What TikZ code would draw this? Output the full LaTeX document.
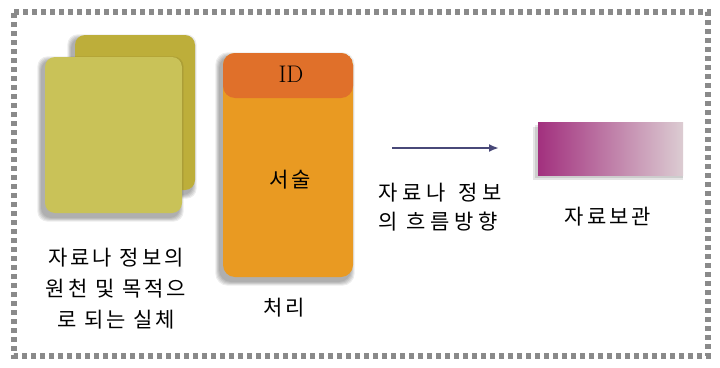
\documentclass[tikz,border=0pt]{standalone}
\usepackage{fontspec}
\usetikzlibrary{arrows.meta}
\newfontfamily\kr[LetterSpace=14]{Noto Sans CJK KR}
\newfontfamily\krw[LetterSpace=22]{Noto Sans CJK KR}
\definecolor{frame}{HTML}{8A8A8A}
\definecolor{backyellow}{HTML}{BDAE3A}
\definecolor{frontyellow}{HTML}{C9C258}
\definecolor{idorange}{HTML}{E0702A}
\definecolor{bodyorange}{HTML}{E99A22}
\definecolor{storeleft}{HTML}{A2307E}
\definecolor{storeright}{HTML}{DCCCD2}
\definecolor{arrowcol}{HTML}{484878}
\tikzset{
  card/.style={rounded corners=10pt, draw=none, inner sep=0pt},
  lbl/.style={align=center, inner sep=0pt, font=\fontsize{21}{31}\selectfont\kr},
  lblw/.style={align=left, inner sep=0pt, font=\fontsize{21}{29}\selectfont\krw},
}
\newcommand{\softshadow}[5]{% x1 y1 x2 y2 radius
  \foreach \g in {0,1,2,3,4}{
    \fill[black, opacity=0.07, rounded corners=#5]
      ({#1-4-\g*0.9},{#2+3-\g*0.9}) rectangle ({#3-2+\g*0.9},{#4+5+\g*0.9});
  }
}
\begin{document}
\begin{tikzpicture}[x=1pt,y=-1pt]
\useasboundingbox (0,0) rectangle (720,367);
\fill[white] (0,0) rectangle (720,367);
% frame
\draw[frame, line width=5.5pt, dash pattern=on 5pt off 4pt]
  (14,12) -- (708,12) -- (708,356) -- (14,356) -- cycle;
% back card
\softshadow{75}{35}{195}{190}{10pt}
\node[card, fill=backyellow, minimum width=120pt, minimum height=155pt] (back) at (135,112.5) {};
% front card
\softshadow{45}{57}{182}{213}{10pt}
\node[card, fill=frontyellow, minimum width=137pt, minimum height=156pt] (front) at (113.5,135) {};
% orange card
\softshadow{223}{53}{353}{277}{12pt}
\node[card, rounded corners=12pt, fill=bodyorange, minimum width=130pt, minimum height=224pt,
  path picture={\fill[idorange] (path picture bounding box.north west) rectangle ([yshift=-45pt]path picture bounding box.north east);}] (proc) at (288,165) {};
\node[font=\fontsize{24}{24}\selectfont, inner sep=0pt] (id) at (291,74) {ID};
\node[lbl] (desc) at (290,180) {서술};
% arrow
\coordinate (a1) at (392,148);
\coordinate (a2) at (499,148);
\draw[arrowcol, line width=2.2pt, -{Latex[length=10pt,width=8pt]}] (a1) -- (a2);
% storage
\fill[black, opacity=0.10] (533,127) rectangle (683,180);
\fill[black, opacity=0.10] (535,125) rectangle (683,178);
\node[draw=none, inner sep=0pt, minimum width=145pt, minimum height=53pt,
  left color=storeleft, right color=storeright] (store) at (610.5,148.5) {};
% labels
\node[lbl] (src) at (116,289) {자료나 정보의\\원천 및 목적으\\로 되는 실체};
\node[lbl] (proclbl) at (284,308) {처리};
\node[lblw, anchor=west] (flow) at (378,207.5) {자료나 \,정보\\의 흐름방향};
\node[lbl] (storelbl) at (608,217) {자료보관};
\end{tikzpicture}
\end{document}
